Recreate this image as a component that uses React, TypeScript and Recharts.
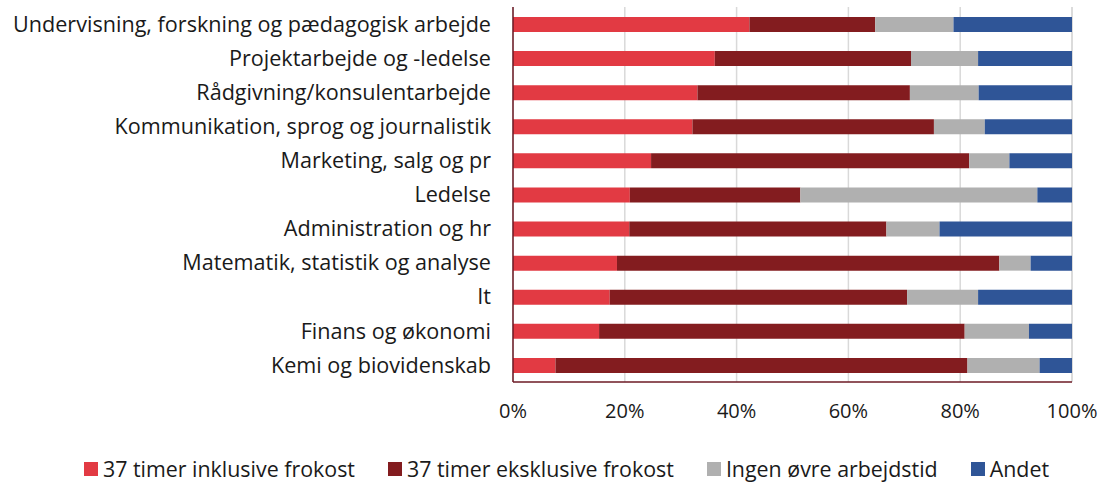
import { BarChart, Bar, XAxis, YAxis, CartesianGrid } from 'recharts'

const categories = [
  'Undervisning, forskning og pædagogisk arbejde',
  'Projektarbejde og -ledelse',
  'Rådgivning/konsulentarbejde',
  'Kommunikation, sprog og journalistik',
  'Marketing, salg og pr',
  'Ledelse',
  'Administration og hr',
  'Matematik, statistik og analyse',
  'It',
  'Finans og økonomi',
  'Kemi og biovidenskab',
]

const inklFrokost = [42.3, 36.1, 33.0, 32.1, 24.7, 20.9, 20.8, 18.6, 17.3, 15.4, 7.6]
const eksklFrokost = [22.5, 35.1, 38.0, 43.2, 56.9, 30.5, 46.0, 68.4, 53.2, 65.4, 73.7]
const ingenOevre = [14.0, 12.0, 12.3, 9.1, 7.2, 42.4, 9.5, 5.6, 12.7, 11.5, 12.9]
const andet = [21.2, 16.8, 16.7, 15.6, 11.2, 6.2, 23.7, 7.4, 16.8, 7.7, 5.8]

const xTicks = [0, 20, 40, 60, 80, 100]

const series = [
  { key: 'inkl', name: '37 timer inklusive frokost', color: '#e23a43' },
  { key: 'ekskl', name: '37 timer eksklusive frokost', color: '#831c1f' },
  { key: 'ingen', name: 'Ingen øvre arbejdstid', color: '#b0b0b0' },
  { key: 'andet', name: 'Andet', color: '#2f5597' },
]

const data = categories.map((c, i) => ({
  category: c,
  inkl: inklFrokost[i],
  ekskl: eksklFrokost[i],
  ingen: ingenOevre[i],
  andet: andet[i],
}))

const font = '"Open Sans", "Noto Sans", sans-serif'

export default function App() {
  return (
    <div style={{ position: 'absolute', left: 0, top: 0, width: 1107, height: 484, fontFamily: font }}>
      <BarChart
        width={1107}
        height={430}
        data={data}
        layout="vertical"
        margin={{ top: 7, right: 35, left: 0, bottom: 0 }}
      >
        <CartesianGrid horizontal={false} stroke="#d9d9d9" strokeWidth={1.5} />
        <XAxis
          type="number"
          domain={[0, 100]}
          ticks={xTicks}
          tickFormatter={v => `${v}%`}
          axisLine={{ stroke: '#6d1a24', strokeWidth: 1.5 }}
          tickLine={false}
          tickSize={0}
          tickMargin={22}
          height={48}
          tick={{ fill: '#1a1a1a', fontSize: 20, fontFamily: font }}
        />
        <YAxis
          type="category"
          dataKey="category"
          width={513}
          axisLine={{ stroke: '#6d1a24', strokeWidth: 1.5 }}
          tickLine={false}
          tickSize={0}
          tickMargin={22}
          interval={0}
          tick={{ fill: '#1a1a1a', fontSize: 21.6, fontFamily: font }}
        />
        {series.map(s => (
          <Bar
            key={s.key}
            dataKey={s.key}
            name={s.name}
            stackId="a"
            fill={s.color}
            barSize={15}
            isAnimationActive={false}
          />
        ))}
      </BarChart>
      <div
        style={{
          position: 'absolute',
          left: 0,
          top: 454,
          width: 1107,
          display: 'flex',
          justifyContent: 'center',
          alignItems: 'center',
          fontSize: 21.4,
          lineHeight: '30px',
          color: '#1a1a1a',
          paddingLeft: 26,
          boxSizing: 'border-box',
        }}
      >
        {series.map((s, i) => (
          <div
            key={s.key}
            style={{ display: 'flex', alignItems: 'center', marginLeft: i === 0 ? 0 : 33 }}
          >
            <span style={{ width: 14, height: 14, background: s.color, marginRight: 5, display: 'inline-block' }} />
            <span>{s.name}</span>
          </div>
        ))}
      </div>
    </div>
  )
}
